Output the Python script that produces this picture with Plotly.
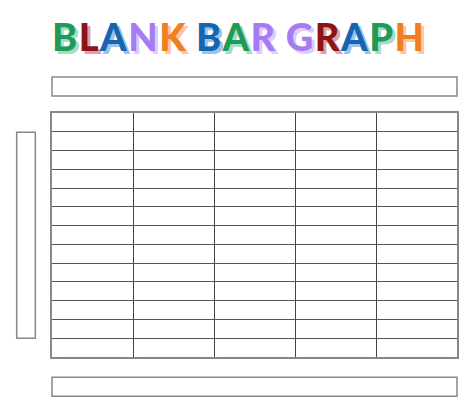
import plotly.graph_objects as go

# blank template: five empty bar slots on a 13-row grid
bar_slots = [0.5, 1.5, 2.5, 3.5, 4.5]
bar_values = [0, 0, 0, 0, 0]
n_rows = 13

title_letters = list("BLANK BAR GRAPH")
letter_colors = ["#1f9a5a", "#8c1418", "#1565b0", "#a57cf2", "#f07e22", None,
                 "#1565b0", "#1f9a5a", "#a57cf2", None,
                 "#a57cf2", "#8c1418", "#1565b0", "#1f9a5a", "#f07e22"]
shadow_colors = ["#a6dcbf", "#dca2a4", "#9cc2e8", "#dccbfb", "#f9c7a0", None,
                 "#9cc2e8", "#a6dcbf", "#dccbfb", None,
                 "#dccbfb", "#dca2a4", "#9cc2e8", "#a6dcbf", "#f9c7a0"]


def colored(letters, colors, shadows):
    parts = []
    for ch, c, s in zip(letters, colors, shadows):
        if c is None:
            parts.append(" ")
        else:
            parts.append(f'<span style="color:{c};letter-spacing:1.5px;'
                         f'text-shadow:3px 3px 0 {s}">{ch}</span>')
    return "".join(parts)


fig = go.Figure(go.Bar(x=bar_slots, y=bar_values, marker_color="rgba(0,0,0,0)",
                       hoverinfo="skip"))

# page is drawn with an 8px body margin, so margins are shifted to compensate
fig.update_layout(
    width=474, height=418,
    margin=dict(l=44, r=25, t=105, b=69),
    paper_bgcolor="white", plot_bgcolor="white",
    showlegend=False,
)
fig.update_xaxes(range=[0, 5], tick0=0, dtick=1, showticklabels=False, ticks="",
                 showgrid=True, gridcolor="#444", gridwidth=1, zeroline=False,
                 showline=True, mirror=True, linecolor="#888", linewidth=1.5,
                 fixedrange=True)
fig.update_yaxes(range=[0, n_rows], tick0=0, dtick=1, showticklabels=False, ticks="",
                 showgrid=True, gridcolor="#555", gridwidth=1, zeroline=False,
                 showline=True, mirror=True, linecolor="#888", linewidth=1.5,
                 fixedrange=True)

box = dict(type="rect", xref="paper", yref="paper",
           line=dict(color="#888", width=1.5), fillcolor="white")
fig.add_shape(x0=0, x1=1, y0=1.0697, y1=1.1475, **box)     # chart title box
fig.add_shape(x0=0, x1=1, y0=-0.161, y1=-0.0832, **box)    # x label box
fig.add_shape(x0=-0.0872, x1=-0.0412, y0=0.0766, y1=0.921, **box)  # y label box

fig.add_annotation(text=colored(title_letters, letter_colors, shadow_colors),
                   xref="paper", yref="paper", x=0.46, y=1.3156,
                   xanchor="center", yanchor="middle", showarrow=False,
                   font=dict(family="Lato, 'DejaVu Sans', sans-serif", size=38, weight=900))

fig.write_html("out.html")
